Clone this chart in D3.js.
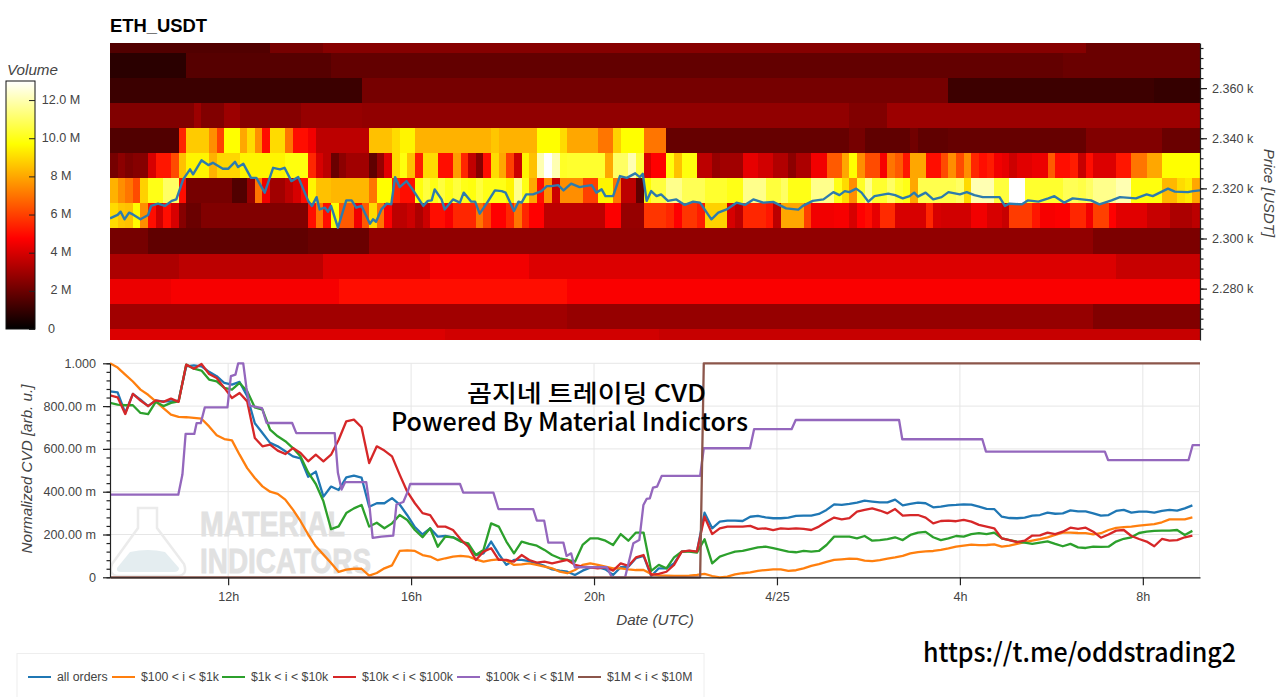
<!DOCTYPE html>
<html>
<head>
<meta charset="utf-8">
<title>ETH_USDT</title>
<script src="https://cdn.jsdelivr.net/npm/d3@7"></script>
<style>
  html, body { margin: 0; padding: 0; background: #fff; }
  svg { display: block; font-family: "Liberation Sans", Arial, sans-serif; }
  .tick text { fill: #444; font-size: 12.6px; }
  .axis-name { fill: #444; font-size: 15.2px; font-style: italic; }
  .overlay { fill: #000; font-family: "Noto Sans CJK KR", "Noto Sans", sans-serif; font-weight: 500; }
</style>
</head>
<body>
<script>
// heatmap: one list per price level, each entry is [number of 10 min bins, volume in millions]
var rowPrices = [2379, 2369, 2359, 2349, 2339, 2329, 2319, 2309, 2299, 2289, 2279, 2269, 2259];
var row2379 = [[21,1.5],[7,2.2],[100,2.5],[15,2.0]];
var row2369 = [[10,0.8],[19,1.6],[96,1.85],[18,2.0]];
var row2359 = [[33,1.1],[77,2.2],[27,1.15],[6,1.0]];
var row2349 = [[11,2.4],[1,2.9],[3,2.4],[2,2.9],[8,2.5],[8,2.8],[64,2.7],[5,2.4],[41,2.9]];
var row2339 = [[9,1.5],[1,5.5],[3,8.7],[1,7.5],[1,6],[2,9.7],[1,8],[1,9],[1,7.5],[1,5],[2,9],[1,7],[2,5],[1,4.5],[7,3.5],
  [3,8.5],[1,9],[2,9.5],[8,8.2],[2,8.2],[1,8.6],[5,8.2],[3,9.7],[1,9],[4,8],[2,7],[1,8.8],[3,9.7],[3,7],
  [24,1.9],[2,2.2],[6,1.8],[1,2.1],[4,1.8],[18,1.9],[10,2.4],[5,2.0]];
var row2329 = [[1,2.2],[1,2.6],[1,2.3],[2,2.5],[1,4],[2,5.2],[1,6.2],[1,8.5],[3,9.5],[1,8.2],[3,8.9],[6,9.5],[3,9.8],[1,5.5],[1,4],
  [1,3.5],[1,2],[1,2.6],[3,3],[1,1.8],[1,2.8],[1,4.2],[1,9],[1,9.8],[1,8.5],[1,5.3],[2,9],[2,5],[1,7.8],[1,5.5],[1,3.6],[1,2.5],
  [1,5],[1,9],[1,8],[1,6],[1,3.8],[1,9.5],[1,8.5],[1,12],[1,13],[1,12],[1,10.2],[5,10.3],[1,8],[2,11],[1,12],[1,10.5],[1,4],[2,4.8],
  [1,9.8],[1,8.5],[2,9.8],[2,3.5],[1,2.8],[3,3],[2,4.3],[2,3.9],[2,3.3],[1,2.6],[2,3.2],[2,4.5],[2,6.5],[1,8],[1,9.7],[1,7.5],[2,6.2],
  [1,4.6],[1,7],[1,6.5],[1,5.2],[2,8],[2,5],[1,6.2],[1,7.5],[1,6.2],[1,7.5],[1,5.5],[1,5],[1,5.3],[1,4.5],[1,4.3],[1,3.8],[2,4.2],[2,4.4],
  [1,6.5],[2,5],[1,5.3],[1,3.7],[1,5],[3,4.1],[2,5.2],[2,7],[2,8],[5,9.7]];
var row2319 = [[1,8.2],[1,7.5],[1,7],[1,6.2],[1,8.8],[2,10],[2,11],[1,5],[6,2.2],[2,1.5],[1,2.8],[1,7],[1,4.5],[2,3],[1,3.5],[1,4],[1,5],
  [1,9.5],[2,8.5],[5,8.3],[1,7],[2,9.7],[1,5.5],[2,5],[1,9.8],[1,10.5],[1,10],[1,10.5],[1,10],[1,10.5],[1,10],[1,9.8],[1,10.5],[3,10],
  [1,9.5],[1,11.5],[1,10],[1,8],[1,5],[1,7.5],[1,3.8],[3,7.5],[2,6],[2,9.5],[1,7],[2,3.5],[1,1.8],[1,9.7],[2,10.5],[2,11.5],[3,10.8],
  [3,10.3],[2,10],[3,11.5],[2,10.5],[1,11],[3,10],[3,11.5],[1,10],[1,9],[1,7.5],[1,10.2],[1,11.5],[2,10.3],[1,11],[1,10.3],[1,10],[1,8],
  [5,10.7],[1,11],[1,9],[3,12],[2,10.5],[2,13],[5,10.3],[2,10.8],[1,10.6],[1,11],[3,11.5],[2,12],[4,9.9],[2,8.3],[1,9],[1,9.3],[1,8]];
var row2309 = [[1,9],[1,8.6],[1,8.5],[1,9.6],[1,7.5],[1,5],[1,3.8],[1,5],[1,4],[1,2.5],[2,2],[14,2.4],[1,5],[1,7],[1,5],[1,9.7],[2,6.5],
  [1,4.5],[1,6.5],[1,9],[1,7],[1,4.7],[2,3.5],[1,3.8],[1,3.2],[1,3.8],[2,4.9],[1,4.6],[3,5.5],[1,7],[1,6],[2,4.8],[1,5.5],[1,7],[1,5.5],
  [2,4.8],[8,3.5],[2,4.7],[3,2.8],[3,5.8],[1,5.5],[1,4.8],[2,5.8],[1,5.3],[3,8.8],[1,4],[1,3.5],[3,5.5],[1,5.2],[1,3.5],[3,8],[1,6],
  [3,4.5],[2,4.6],[1,4],[1,4.8],[1,4.9],[1,4.3],[2,5.6],[4,4],[1,5.5],[1,4],[4,3.9],[2,4.5],[2,4],[1,3.7],[3,5.9],[1,5.2],[2,4.6],
  [2,4.7],[2,5.5],[1,4.5],[2,6],[1,4.8],[4,4.2],[3,3.7],[3,3.2],[1,3.5]];
var row2299 = [[5,2.2],[21,1.8],[8,2.0],[95,2.7],[14,2.3]];
var row2289 = [[9,3.2],[19,3.5],[14,4.1],[13,4.5],[77,4.1],[11,3.7]];
var row2279 = [[8,4.4],[22,4.6],[30,5],[83,4.65]];
var row2269 = [[60,3.0],[69,2.8],[14,2.4]];
var row2259 = [[44,4.1],[28,3.9],[71,3.7]];
var priceRows = [row2379, row2369, row2359, row2349, row2339, row2329, row2319, row2309, row2299, row2289, row2279, row2269, row2259];

// last traded price, minutes after 09:25 and USDT
var priceMinutes = [0,10,14,19,25,30,40,50,54,63,72,81,87,96,105,109,120,129,135,148,155,164,168,175,185,192,203,214,223,229,238,247,
  260,265,271,275,282,286,290,299,310,317,323,330,341,345,349,356,363,369,374,380,389,397,411,417,422,426,435,439,450,459,464,474,
  479,485,494,505,514,519,530,536,540,546,555,566,573,579,588,595,605,616,623,632,638,645,650,660,669,678,689,695,699,704,710,717,723,
  732,743,754,765,774,789,798,809,822,833,844,857,870,887,903,909,922,936,949,957,964,970,979,986,995,1003,1021,1030,1040,1049,1055,
  1060,1070,1080,1091,1100,1115,1124,1134,1145,1167,1174,1180,1196,1204,1218,1231,1239,1252,1263,1287,1298,1314,1325,1346,1360,1368,
  1388,1397,1414,1421,1430];
var priceValues = [2308.05,2309.4,2310.7,2307.65,2310.3,2309.6,2307.65,2309.4,2313,2313.9,2313,2315,2315.6,2323.6,2327.6,2325.6,2331.2,
  2329.3,2330.2,2327.8,2327.8,2330.6,2328.5,2329.8,2324.2,2324.2,2318.3,2328.2,2327.6,2328.2,2322.9,2324.5,2315,2313,2316.5,2311.6,2312.3,
  2310.7,2313,2304.3,2315.2,2315.2,2312.3,2313,2305.9,2307.65,2306.7,2311.6,2313.9,2313.6,2324.5,2320.5,2322.9,2319.6,2313,2315,2315.2,
  2319.6,2315.6,2311.6,2315.6,2314.3,2318.3,2314.7,2314.7,2309.9,2313.9,2319.2,2318.9,2318.3,2311,2314.7,2314.3,2317.6,2317.6,2318.9,
  2320.9,2320.9,2321.3,2319.2,2321.9,2320.5,2320.9,2321.3,2318.3,2319.6,2316.9,2316.9,2324.9,2324.2,2326,2324.5,2325.8,2315,2318.9,
  2316.9,2317.6,2315,2315.6,2313.4,2314.7,2314.3,2307.65,2310.3,2311.6,2314.3,2313.4,2315.6,2314.3,2314.6,2312,2311.5,2313,2315,2315.6,
  2318.5,2317.3,2318.9,2318.5,2319.9,2318.3,2314.7,2316.9,2317.9,2317.3,2316,2316.9,2318.3,2316.7,2318.3,2315.6,2316.5,2318.5,2317.6,
  2318.5,2317.3,2316.5,2316.5,2313,2313.9,2313.6,2315.2,2314.7,2316,2316.9,2314.3,2316,2315.2,2313.6,2315.2,2316.5,2316,2317.6,2316.9,
  2319.9,2318.7,2318.5,2318.9,2319.2];

// normalized CVD, one value per 10 min bin
var cvdAll = [.869,.864,.768,.857,.83,.8,.826,.822,.822,.826,
  .986,.99,.986,.96,.94,.908,.9,.913,.846,.72,
  .674,.628,.612,.589,.565,.556,.47,.494,.377,.424,
  .408,.467,.475,.466,.33,.346,.346,.37,.34,.29,
  .235,.2,.229,.19,.193,.187,.171,.148,.104,.112,
  .167,.109,.058,.081,.081,.076,.065,.053,.037,.031,
  .026,.011,.031,.045,.047,.037,.011,.047,.05,.089,
  .1,.006,.042,.042,.065,.12,.123,.12,.302,.229,
  .26,.265,.265,.263,.283,.287,.28,.276,.276,.279,
  .287,.288,.288,.296,.315,.341,.338,.343,.349,.358,
  .354,.35,.35,.363,.336,.343,.349,.346,.327,.33,
  .336,.338,.341,.34,.33,.32,.319,.283,.277,.276,
  .279,.288,.291,.302,.297,.299,.313,.308,.308,.299,
  .288,.291,.31,.315,.302,.307,.307,.302,.31,.315,
  .312,.322,.336];
var cvd100 = [1,.98,.947,.915,.877,.853,.822,.79,.76,.75,
  .748,.745,.741,.705,.664,.646,.64,.573,.51,.464,
  .425,.40,.39,.363,.316,.262,.2,.145,.106,.067,
  .025,.036,.04,.04,.008,.02,.042,.056,.123,.126,
  .123,.104,.097,.08,.089,.097,.1,.097,.084,.073,
  .08,.084,.078,.058,.06,.065,.058,.05,.042,.026,
  .019,.034,.058,.065,.058,.05,.042,.042,.037,.034,
  .034,.016,.009,.008,.006,.006,.008,.011,.016,.006,
  0,.003,.014,.019,.023,.03,.034,.037,.037,.03,
  .033,.042,.053,.062,.072,.081,.084,.087,.086,.078,
  .076,.08,.087,.093,.1,.112,.118,.121,.123,.128,
  .135,.143,.148,.153,.15,.151,.154,.143,.148,.156,
  .164,.171,.178,.187,.198,.209,.209,.207,.206,.201,
  .206,.221,.231,.234,.237,.241,.245,.248,.257,.271,
  .271,.271,.28];
var cvd1k = [.815,.807,.804,.804,.768,.763,.82,.8,.815,.822,
  .994,.975,.966,.924,.916,.885,.877,.908,.869,.794,
  .784,.69,.659,.636,.604,.565,.49,.436,.355,.225,
  .238,.3,.322,.338,.237,.255,.229,.252,.291,.268,
  .221,.187,.229,.143,.19,.187,.167,.159,.104,.128,
  .252,.237,.167,.112,.167,.156,.148,.128,.104,.089,
  .081,.073,.151,.182,.182,.171,.151,.202,.171,.209,
  .209,.03,.058,.042,.093,.12,.12,.115,.178,.065,
  .097,.109,.12,.123,.132,.14,.143,.136,.128,.12,
  .117,.123,.12,.123,.151,.19,.19,.19,.182,.193,
  .171,.174,.178,.187,.174,.198,.209,.212,.187,.174,
  .182,.193,.19,.202,.206,.202,.209,.182,.174,.167,
  .162,.156,.162,.168,.156,.145,.156,.14,.137,.143,
  .142,.143,.167,.18,.187,.207,.213,.217,.218,.218,
  .221,.198,.217];
var cvd10k = [.85,.841,.763,.857,.826,.8,.827,.82,.835,.82,
  .994,.975,.997,.95,.931,.885,.838,.861,.822,.651,
  .612,.62,.592,.576,.604,.581,.542,.573,.542,.573,
  .643,.729,.737,.701,.534,.612,.592,.565,.48,.4,
  .346,.3,.291,.237,.237,.221,.178,.143,.081,.12,
  .136,.081,.081,.073,.104,.081,.069,.073,.065,.073,
  .081,.058,.05,.047,.042,.047,.031,.065,.053,.093,
  .104,.011,.016,.026,.058,.12,.125,.12,.283,.202,
  .229,.237,.237,.237,.24,.226,.229,.221,.229,.226,
  .229,.226,.221,.237,.26,.279,.271,.276,.307,.315,
  .322,.312,.299,.319,.288,.291,.291,.279,.252,.263,
  .265,.262,.268,.26,.245,.237,.229,.182,.174,.164,
  .171,.195,.196,.209,.202,.213,.232,.226,.232,.213,
  .185,.2,.218,.221,.193,.179,.167,.145,.179,.171,
  .174,.187,.195];

// the two large order groups move in steps, so they keep their own hours (24 = 4/25 00:00)
var cvd100kHours = [9.417,10.91,11,11.07,11.26,11.31,11.4,11.49,11.985,12.06,12.16,12.22,12.33,12.4,12.47,12.74,12.84,13.4,13.49,14.33,14.4,14.48,14.56,
  15.02,15.08,15.16,15.35,15.61,15.68,15.83,15.93,15.98,17.07,17.14,17.8,17.91,18.67,18.75,18.91,19,19.33,19.4,19.5,19.58,20.28,20.39,20.68,20.86,20.99,
  21.08,21.15,21.22,21.29,21.38,21.48,22.32,22.4,23.41,23.5,24.32,24.41,26.67,26.74,28.49,28.57,31.17,31.24,33,33.09,33.25];
var cvd100kValues = [.386,.386,.48,.67,.67,.72,.72,.794,.794,.94,.947,1,1,.885,.802,.791,.721,.721,.674,.674,.488,.41,.445,
  .445,.355,.184,.19,.195,.34,.352,.402,.436,.436,.396,.396,.319,.319,.265,.265,.162,.162,.1,.112,.047,.047,0,0,.159,.174,
  .338,.366,.369,.419,.424,.474,.474,.603,.603,.692,.692,.735,.735,.645,.645,.587,.587,.548,.548,.618,.618];
var cvd1mHours = [9.417,22.32,22.4,33.25];
var cvd1mValues = [0,0,1,1];

var legendLabels = ['all orders', '$100 < i < $1k', '$1k < i < $10k', '$10k < i < $100k', '$100k < i < $1M', '$1M < i < $10M'];
var seriesColors = ['#1f77b4', '#ff7f0e', '#2ca02c', '#d62728', '#9467bd', '#8c564b'];

var hourTicks = [12, 16, 20, 24, 28, 32];
var hourLabels = ['12h', '16h', '20h', '4/25', '4h', '8h'];
var priceTicks = [2280, 2300, 2320, 2340, 2360];
var priceLabels = ['2.280 k', '2.300 k', '2.320 k', '2.340 k', '2.360 k'];
var cvdTicks = [0, .2, .4, .6, .8, 1];
var cvdLabels = ['0', '200.00 m', '400.00 m', '600.00 m', '800.00 m', '1.000'];
var volumeTicks = [0, 2, 4, 6, 8, 10, 12];
var volumeLabels = ['0', '2 M', '4 M', '6 M', '8 M', '10.0 M', '12.0 M'];

var startHour = 9.4167, endHour = 33.25;

var svg = d3.select('body').append('svg').attr('width', 1280).attr('height', 697);

var x = d3.scaleLinear().domain([startHour, endHour]).range([110, 1200]);
var yPrice = d3.scaleLinear().domain([2259.5, 2378]).range([340, 43]);
var yCvd = d3.scaleLinear().domain([0, 1]).range([577.3, 363.3]);
var yVolume = d3.scaleLinear().domain([0, 13]).range([329, 81]);

// hot colour map
var hot = d3.scaleLinear().domain([0, 4.75, 9.7, 13]).range(['#000000', '#ff0000', '#ffff00', '#ffffff']);

var defs = svg.append('defs');
defs.append('clipPath').attr('id', 'heat-clip').append('rect')
  .attr('x', 110).attr('y', 43).attr('width', 1090).attr('height', 297);
defs.append('clipPath').attr('id', 'cvd-clip').append('rect')
  .attr('x', 110).attr('y', 362).attr('width', 1090).attr('height', 217);

// the source picture is soft, the cells do not have hard edges
defs.append('filter').attr('id', 'soft')
  .append('feGaussianBlur').attr('stdDeviation', 0.7);

var grad = defs.append('linearGradient').attr('id', 'volume-grad')
  .attr('x1', 0).attr('y1', 1).attr('x2', 0).attr('y2', 0);
hot.domain().forEach(function(v) {
  grad.append('stop').attr('offset', v / 13).attr('stop-color', hot(v));
});

svg.append('text').text('ETH_USDT')
  .attr('x', 110).attr('y', 32)
  .style('font-size', '18.4px').style('font-weight', 'bold').style('fill', '#000');

// ---- heatmap
var cells = [];
priceRows.forEach(function(runs, r) {
  var bin = 0;
  runs.forEach(function(run) {
    cells.push({ price: rowPrices[r], bin: bin, n: run[0], v: run[1] });
    bin += run[0];
  });
});

svg.append('g').attr('clip-path', 'url(#heat-clip)')
  .append('g').attr('filter', 'url(#soft)')
  .selectAll('rect').data(cells).enter().append('rect')
  .attr('x', function(d) { return x(startHour + d.bin / 6); })
  .attr('width', function(d) { return x(startHour + (d.bin + d.n) / 6) - x(startHour + d.bin / 6) + 0.5; })
  .attr('y', function(d) { return yPrice(d.price + 5); })
  .attr('height', function(d) { return yPrice(d.price - 5) - yPrice(d.price + 5) + 0.5; })
  .attr('shape-rendering', 'crispEdges')
  .style('fill', function(d) { return hot(d.v); });

var priceLine = d3.line()
  .x(function(m) { return x(startHour + m / 60); })
  .y(function(m, i) { return yPrice(priceValues[i]); });

svg.append('path').datum(priceMinutes)
  .attr('d', priceLine)
  .attr('clip-path', 'url(#heat-clip)')
  .style('fill', 'none').style('stroke', '#2d7bad').style('stroke-width', 2.4)
  .style('stroke-linejoin', 'round');

// right price axis
function styleAxis(g) {
  g.select('.domain').style('stroke', '#222').style('stroke-width', 1.2);
  g.selectAll('.tick line').style('stroke', '#222').style('stroke-width', 1.2);
}

var priceMinor = svg.append('g').attr('transform', 'translate(1200,0)')
  .call(d3.axisRight(yPrice).tickValues(d3.range(2264, 2378, 4)).tickSize(3.5).tickFormat(''));
styleAxis(priceMinor);
priceMinor.select('.domain').remove();

var priceAxis = svg.append('g').attr('transform', 'translate(1200,0)')
  .call(d3.axisRight(yPrice).tickValues(priceTicks).tickSizeInner(7).tickSizeOuter(0).tickPadding(5)
    .tickFormat(function(d, i) { return priceLabels[i]; }));
styleAxis(priceAxis);

svg.append('text').attr('class', 'axis-name').text('Price [USDT]')
  .attr('transform', 'translate(1264,193) rotate(90)')
  .style('text-anchor', 'middle');

// ---- colour bar
svg.append('rect')
  .attr('x', 6).attr('y', yVolume(13)).attr('width', 29).attr('height', yVolume(0) - yVolume(13))
  .style('fill', 'url(#volume-grad)').style('stroke', '#111').style('stroke-width', 1);

var volumeAxis = svg.append('g').attr('transform', 'translate(35,0)')
  .call(d3.axisLeft(yVolume).tickValues(volumeTicks).tickSize(6).tickFormat(''));
volumeAxis.select('.domain').remove();
volumeAxis.selectAll('.tick line').style('stroke', '#222');

svg.append('g').selectAll('text').data(volumeTicks).enter().append('text')
  .text(function(d, i) { return volumeLabels[i]; })
  .attr('x', function(d) { return d === 0 ? 51.5 : 61; })
  .attr('y', function(d) { return yVolume(d) + 3.5; })
  .style('text-anchor', 'middle').style('fill', '#444').style('font-size', '12.6px');

svg.append('text').attr('class', 'axis-name').text('Volume').attr('x', 7).attr('y', 75);

// ---- CVD panel: grid first
var cvdGrid = svg.append('g');
cvdGrid.selectAll('line.h').data(cvdTicks).enter().append('line').attr('class', 'h')
  .attr('x1', 110).attr('x2', 1200)
  .attr('y1', function(d) { return yCvd(d); }).attr('y2', function(d) { return yCvd(d); })
  .style('stroke', '#e6e6e6');
cvdGrid.selectAll('line.v').data(hourTicks).enter().append('line').attr('class', 'v')
  .attr('y1', yCvd(1)).attr('y2', yCvd(0))
  .attr('x1', function(d) { return x(d); }).attr('x2', function(d) { return x(d); })
  .style('stroke', '#e6e6e6');
cvdGrid.append('line')
  .attr('x1', 1199.5).attr('x2', 1199.5).attr('y1', yCvd(1)).attr('y2', yCvd(0))
  .style('stroke', '#e6e6e6');

// watermark
var mark = svg.append('g');
mark.append('path')
  .attr('d', 'M138,508 L157,508 L157,528 L184,564 Q188,575 178,576 L118,576 Q108,575 112,564 L138,528 Z')
  .style('fill', 'none').style('stroke', '#ebebeb').style('stroke-width', 2.5);
mark.append('path')
  .attr('d', 'M130,552 Q148,548 165,552 L179,568 Q179,572 174,572 L121,572 Q116,572 117,568 Z')
  .style('fill', '#e4edf0');
mark.selectAll('text').data(['MATERIAL', 'INDICATORS']).enter().append('text')
  .text(function(d) { return d; })
  .attr('x', 200)
  .attr('y', function(d, i) { return i ? 573 : 536; })
  .attr('textLength', function(d, i) { return i ? 171 : 145; })
  .attr('lengthAdjust', 'spacingAndGlyphs')
  .style('font-size', '35px').style('font-weight', 'bold')
  .style('fill', '#e1e1e1').style('stroke', '#e1e1e1').style('stroke-width', 0.8);

var binLine = d3.line()
  .x(function(d, i) { return x(startHour + i / 6); })
  .y(function(d) { return yCvd(d); });
var stepLine = function(hours) {
  return d3.line()
    .x(function(d, i) { return x(hours[i]); })
    .y(function(d) { return yCvd(d); });
};

var cvdPaths = [
  binLine(cvdAll),
  binLine(cvd100),
  binLine(cvd1k),
  binLine(cvd10k),
  stepLine(cvd100kHours)(cvd100kValues),
  stepLine(cvd1mHours)(cvd1mValues)
];

svg.append('g').attr('clip-path', 'url(#cvd-clip)')
  .selectAll('path').data(cvdPaths).enter().append('path')
  .attr('d', function(d) { return d; })
  .style('fill', 'none')
  .style('stroke', function(d, i) { return seriesColors[i]; })
  .style('stroke-width', 2.3)
  .style('stroke-linejoin', 'round');

// left axis with minor ticks
var cvdMinor = svg.append('g').attr('transform', 'translate(110,0)')
  .call(d3.axisLeft(yCvd).tickValues(d3.range(0, 1.001, .04)).tickSize(3.5).tickFormat(''));
styleAxis(cvdMinor);
cvdMinor.select('.domain').remove();

var cvdAxis = svg.append('g').attr('transform', 'translate(110,0)')
  .call(d3.axisLeft(yCvd).tickValues(cvdTicks).tickSizeInner(7).tickSizeOuter(0).tickPadding(7)
    .tickFormat(function(d, i) { return cvdLabels[i]; }));
styleAxis(cvdAxis);

var hourAxis = svg.append('g').attr('transform', 'translate(0,577.3)')
  .call(d3.axisBottom(x).tickValues(hourTicks).tickSizeInner(8).tickSizeOuter(0).tickPadding(7)
    .tickFormat(function(d, i) { return hourLabels[i]; }));
styleAxis(hourAxis);

svg.append('text').attr('class', 'axis-name').text('Normalized CVD [arb. u.]')
  .attr('transform', 'translate(32,469) rotate(-90)')
  .style('text-anchor', 'middle');
svg.append('text').attr('class', 'axis-name').text('Date (UTC)')
  .attr('x', 655).attr('y', 625).style('text-anchor', 'middle');

// ---- legend
svg.append('rect')
  .attr('x', 17).attr('y', 653.5).attr('width', 687).attr('height', 50)
  .style('fill', '#fff').style('stroke', '#eeeeee');

var legendX = [28, 112, 222, 333, 457, 578];
var legend = svg.append('g').selectAll('g').data(legendLabels).enter().append('g')
  .attr('transform', function(d, i) { return 'translate(' + legendX[i] + ',677)'; });
legend.append('line')
  .attr('x1', 0).attr('x2', 23)
  .style('stroke', function(d, i) { return seriesColors[i]; })
  .style('stroke-width', 2);
legend.append('text')
  .text(function(d) { return d; })
  .attr('x', 29).attr('y', 4.3)
  .style('fill', '#444').style('font-size', '12.3px');

// text pasted on top of the chart
svg.append('text').attr('class', 'overlay').text('곰지네 트레이딩 CVD')
  .attr('x', 467).attr('y', 402).attr('textLength', 239)
  .attr('lengthAdjust', 'spacingAndGlyphs').style('font-size', '24px');
svg.append('text').attr('class', 'overlay').text('Powered By Material Indictors')
  .attr('x', 391).attr('y', 431).attr('textLength', 357)
  .attr('lengthAdjust', 'spacingAndGlyphs').style('font-size', '25px');
svg.append('text').attr('class', 'overlay').text('https://t.me/oddstrading2')
  .attr('x', 923).attr('y', 662).attr('textLength', 313)
  .attr('lengthAdjust', 'spacingAndGlyphs').style('font-size', '26px');
</script>
</body>
</html>
